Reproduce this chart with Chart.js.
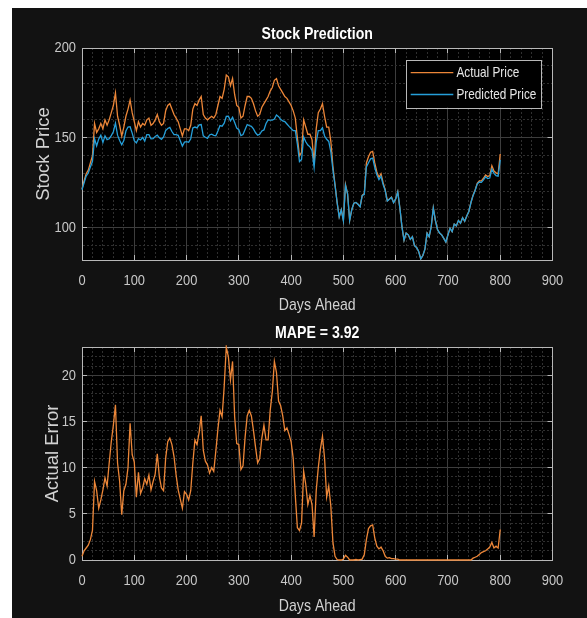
<!DOCTYPE html>
<html>
<head>
<meta charset="utf-8">
<title>Stock Prediction</title>
<script src="https://cdn.jsdelivr.net/npm/chart.js@4"></script>
<style>
  html, body { margin: 0; padding: 0; background: #ffffff; }
  #figure { position: absolute; left: 12px; top: 8px; width: 575px; height: 610px; background: #121212; }
  #priceChart { position: absolute; left: 0; top: 0; }
  #errorChart { position: absolute; left: 0; top: 310px; }
</style>
</head>
<body>
<div id="figure">
  <canvas id="priceChart" width="575" height="310"></canvas>
  <canvas id="errorChart" width="575" height="300"></canvas>
</div>
<script>
// Forecast horizon (days ahead), one sample every 4 days
const days = [
  0, 4, 8, 12, 16, 20, 24, 28, 32, 36,
  40, 44, 48, 52, 56, 60, 64, 68, 72, 76,
  80, 84, 88, 92, 96, 100, 104, 108, 112, 116,
  120, 124, 128, 132, 136, 140, 144, 148, 152, 156,
  160, 164, 168, 172, 176, 180, 184, 188, 192, 196,
  200, 204, 208, 212, 216, 220, 224, 228, 232, 236,
  240, 244, 248, 252, 256, 260, 264, 268, 272, 276,
  280, 284, 288, 292, 296, 300, 304, 308, 312, 316,
  320, 324, 328, 332, 336, 340, 344, 348, 352, 356,
  360, 364, 368, 372, 376, 380, 384, 388, 392, 396,
  400, 404, 408, 412, 416, 420, 424, 428, 432, 436,
  440, 444, 448, 452, 456, 460, 464, 468, 472, 476,
  480, 484, 488, 492, 496, 500, 504, 508, 512, 516,
  520, 524, 528, 532, 536, 540, 544, 548, 552, 556,
  560, 564, 568, 572, 576, 580, 584, 588, 592, 596,
  600, 604, 608, 612, 616, 620, 624, 628, 632, 636,
  640, 644, 648, 652, 656, 660, 664, 668, 672, 676,
  680, 684, 688, 692, 696, 700, 704, 708, 712, 716,
  720, 724, 728, 732, 736, 740, 744, 748, 752, 756,
  760, 764, 768, 772, 776, 780, 784, 788, 792, 796,
  800
];

const actualPrice = [
  121.5, 126, 130, 132, 136, 140, 158, 153, 155, 158,
  155, 160, 157, 160, 164, 168, 175, 162, 157, 151,
  156, 162, 166, 171, 164, 159, 154, 159, 156, 158,
  157, 160, 161, 157, 158, 160, 163, 159, 157, 158,
  165, 168, 169, 166, 163, 161, 159, 155, 151, 155,
  155, 154, 157, 166, 169, 168, 171, 173, 163, 161,
  160, 161, 162, 161, 163, 168, 173, 172, 177, 185,
  184, 179, 183, 174, 168, 167, 161, 162, 168, 173,
  173, 172, 169, 165, 162, 163, 167, 169, 171, 173,
  176, 178, 182, 183, 179, 177, 175, 173, 172, 170,
  168, 165, 161, 150, 140, 142, 160, 156, 152, 152,
  149, 136, 155, 164, 166, 169, 162, 156, 156, 148,
  134, 124, 114, 106, 110, 104, 124, 119, 104, 110,
  113.6, 114, 113, 111.7, 118, 119, 136, 139.5, 142, 142.5,
  136, 131, 128, 130, 125, 121, 115, 116, 117, 114,
  116, 120, 111, 100.6, 93, 97, 96, 93.5, 95, 90,
  89, 86.7, 82.6, 84.5, 88, 96.9, 95, 100.5, 111, 104,
  99, 97, 96, 94, 92, 96, 99.7, 97.8, 102, 101,
  104, 102.5, 105.5, 103.5, 106.5, 109, 114, 118, 121, 124.7,
  126, 126, 127.5, 129.3, 128.5, 129, 134.5, 131.5, 130.5, 130,
  141
];

const predictedPrice = [
  121.1, 125, 128.7, 130.4, 133.8, 136.8, 149.5, 145.5, 149.4, 151.5,
  147.4, 151.1, 149, 149.5, 151.2, 153.4, 158.2, 151.5, 148.5, 146.1,
  148.5, 153.8, 156, 156.2, 152.6, 148.4, 147.2, 149.5, 148.8, 150.2,
  148.2, 151.8, 151.8, 149.4, 149.5, 150.7, 151.5, 150, 149.2, 150.5,
  154, 155.2, 155.8, 153.5, 151.8, 151.8, 151.4, 148.4, 145.4, 147.6,
  147.9, 147.5, 149.5, 155.5, 156, 155.5, 157.2, 157.4, 151.1, 150.3,
  149.7, 151.6, 152, 151.4, 151.2, 153.8, 156.8, 156.5, 158.2, 161.9,
  162, 159.5, 161.5, 158.5, 155.4, 154.5, 151.2, 151.8, 154.7, 157.4,
  156.8, 156.4, 155, 152.8, 151.5, 152, 153.8, 154.4, 158, 160,
  159.8, 159.8, 160.5, 162.7, 161.8, 160.3, 159.4, 159, 157.7, 156.4,
  155.2, 154, 154, 146.5, 136.8, 138, 150.4, 147.8, 146, 145,
  143, 133.5, 147.5, 154, 154, 155.6, 151, 149.2, 148, 142.2,
  132.1, 123.6, 114, 106, 110, 103.9, 123.5, 118.7, 104, 110,
  113.6, 114, 113, 111.6, 117.9, 118.4, 133.8, 136.1, 138.3, 138.7,
  133.6, 129.5, 126.8, 128.6, 124, 120.6, 114.8, 115.8, 116.9, 113.9,
  115.9, 119.9, 111, 100.6, 93, 97, 96, 93.5, 95, 90,
  89, 86.7, 82.6, 84.5, 88, 96.9, 95, 100.5, 111, 104,
  99, 97, 96, 94, 92, 96, 99.7, 97.8, 102, 101,
  104, 102.5, 105.5, 103.5, 106.5, 109, 114, 117.8, 120.7, 124.3,
  125.4, 125.2, 126.6, 128.3, 127.3, 127.6, 132.6, 130.2, 129, 128.7,
  137.7
];

const actualError = [
  0.4, 1.0, 1.3, 1.6, 2.2, 3.2, 8.5, 7.5, 5.6, 6.5,
  7.6, 8.9, 8.0, 10.5, 12.8, 14.6, 16.8, 10.5, 8.5, 4.9,
  7.5, 8.2, 10.0, 14.8, 11.4, 10.6, 6.8, 9.5, 7.2, 7.8,
  8.8, 8.2, 9.2, 7.6, 8.5, 9.3, 11.5, 9.0, 7.8, 7.5,
  11.0, 12.8, 13.2, 12.5, 11.2, 9.2, 7.6, 6.6, 5.6, 7.4,
  7.1, 6.5, 7.5, 10.5, 13.0, 12.5, 13.8, 15.6, 11.9, 10.7,
  10.3, 9.4, 10.0, 9.6, 11.8, 14.2, 16.2, 15.5, 18.8, 23.06,
  22.0, 19.5, 21.5, 15.5, 12.6, 12.5, 9.8, 10.2, 13.3, 15.6,
  16.2, 15.6, 14.0, 12.2, 10.5, 11.0, 13.2, 14.6, 13.0, 13.0,
  16.2, 18.2, 21.5, 20.3, 17.2, 16.7, 15.6, 14.0, 14.3, 13.6,
  12.8, 11.0, 7.0, 3.5, 3.2, 4.0, 9.6, 8.2, 6.0, 7.0,
  6.0, 2.5, 7.5, 10.0, 12.0, 13.4, 11.0, 6.8, 8.0, 5.8,
  1.9, 0.4, 0.05, 0, 0, 0.1, 0.5, 0.3, 0, 0,
  0, 0.05, 0, 0.05, 0.1, 0.6, 2.2, 3.4, 3.7, 3.8,
  2.4, 1.5, 1.2, 1.4, 1.0, 0.4, 0.2, 0.25, 0.15, 0.15,
  0.1, 0.1, 0, 0, 0, 0, 0, 0, 0, 0,
  0, 0, 0, 0, 0, 0, 0, 0, 0, 0,
  0, 0, 0, 0, 0, 0, 0, 0, 0, 0,
  0, 0, 0, 0, 0, 0, 0, 0.2, 0.3, 0.4,
  0.6, 0.8, 0.9, 1.0, 1.2, 1.4, 1.9, 1.3, 1.5, 1.3,
  3.3
];

// Labelled (major) tick values; the minor grid sits between them
const dayTicks = [0, 100, 200, 300, 400, 500, 600, 700, 800, 900];
const priceTicks = [100, 150, 200];
const errorTicks = [0, 5, 10, 15, 20];

const mapeValue = 3.92;

const NARROW = "'Liberation Sans', Arial, sans-serif";
const REGULAR = "'Liberation Sans', Arial, sans-serif";
const TEXT_SQUEEZE = 0.83;   // horizontal text is drawn condensed
const ORANGE = '#ec8638';
const BLUE = '#259fd9';
const AXIS = '#b8b8b8';
const TICK_TEXT = '#c8c8c8';
const LABEL_TEXT = '#d2d2d2';
const MAJOR_GRID = '#3d3d3d';
const MINOR_GRID = '#2f2f2f';

function points(values) {
  return days.map((d, i) => ({ x: d, y: values[i] }));
}

// Upright text is squeezed horizontally around its anchor; rotated text is left as is
const condensedText = {
  id: 'condensedText',
  beforeInit(chart) {
    const ctx = chart.ctx;
    const fill = ctx.fillText;
    ctx.fillText = function (text, x, y, maxWidth) {
      const m = this.getTransform();
      if (Math.abs(m.b) > 1e-6 || Math.abs(m.c) > 1e-6) {
        return maxWidth === undefined ? fill.call(this, text, x, y) : fill.call(this, text, x, y, maxWidth);
      }
      this.save();
      this.translate(x, y);
      this.scale(TEXT_SQUEEZE, 1);
      fill.call(this, text, 0, 0);
      this.restore();
    };
  }
};

// Plot area is filled black inside the dark figure
const plotBackground = {
  id: 'plotBackground',
  beforeDraw(chart) {
    const { ctx, chartArea: { left, top, width, height } } = chart;
    ctx.save();
    ctx.fillStyle = '#000000';
    ctx.fillRect(left, top, width, height);
    ctx.restore();
  }
};

// Boxed legend in the upper-right corner of the plot area
const boxLegend = {
  id: 'boxLegend',
  afterDatasetsDraw(chart, args, opts) {
    if (!opts.display) return;
    const { ctx, chartArea } = chart;
    const w = 134.5, h = 47.5;
    const bx = chartArea.right - 12 - w;
    const by = chartArea.top + 12;
    ctx.save();
    ctx.fillStyle = '#000000';
    ctx.fillRect(bx, by, w, h);
    ctx.strokeStyle = AXIS;
    ctx.lineWidth = 1;
    ctx.strokeRect(Math.round(bx) + 0.5, Math.round(by) + 0.5, Math.round(w), Math.round(h));
    ctx.font = '14.2px ' + NARROW;
    ctx.textBaseline = 'middle';
    ctx.textAlign = 'left';
    chart.data.datasets.forEach((ds, i) => {
      const y = by + 12.7 + i * 21.8;
      ctx.strokeStyle = ds.borderColor;
      ctx.lineWidth = 1.3;
      ctx.beginPath();
      ctx.moveTo(bx + 4.7, y);
      ctx.lineTo(bx + 47.3, y);
      ctx.stroke();
      ctx.fillStyle = '#e6e6e6';
      ctx.fillText(ds.label, bx + 50.5, y + 0.5);
    });
    ctx.restore();
  }
};

function isMajor(ctx, majors) {
  return !ctx.tick || majors.includes(ctx.tick.value);
}

// Main axis with major (solid) and minor (dotted) grid and inward ticks
function mainAxis(position, min, max, step, majors, labelPadding, title, size) {
  const horizontal = position === 'bottom';
  return {
    type: 'linear',
    position,
    min, max,
    ticks: {
      stepSize: step,
      autoSkip: false,
      includeBounds: false,
      maxRotation: 0,
      padding: labelPadding,
      color: TICK_TEXT,
      font: { family: NARROW, size: 15.5 },
      callback: v => majors.includes(v) ? String(v) : ''
    },
    grid: {
      color: ctx => isMajor(ctx, majors) ? MAJOR_GRID : MINOR_GRID,
      lineWidth: 1,
      drawTicks: true,
      tickLength: -5,
      tickWidth: 1,
      tickColor: ctx => isMajor(ctx, majors) ? AXIS : 'rgba(0,0,0,0)'
    },
    border: {
      display: true,
      color: AXIS,
      width: 1,
      dash: ctx => isMajor(ctx, majors) ? [] : [2, 2]
    },
    title,
    afterFit: s => { if (horizontal) s.height = size; else s.width = size; }
  };
}

// Opposite box edge: border line and inward major ticks only
function boxEdge(position, min, max, step, size, title) {
  const horizontal = position === 'top';
  return {
    type: 'linear',
    position,
    min, max,
    ticks: { stepSize: step, includeBounds: false, display: false },
    grid: {
      drawOnChartArea: false,
      drawTicks: true,
      tickLength: -5,
      tickWidth: 1,
      tickColor: AXIS,
      color: AXIS
    },
    border: { display: true, color: AXIS, width: 1 },
    title: title || { display: false },
    afterFit: s => { if (horizontal) s.height = size; else s.width = size; }
  };
}

function lineSet(label, values, color, order) {
  return {
    label,
    data: points(values),
    borderColor: color,
    backgroundColor: color,
    borderWidth: 1.3,
    pointRadius: 0,
    tension: 0,
    fill: false,
    order,
    clip: 2
  };
}

function daysTitle(bottomPad) {
  return {
    display: true,
    text: 'Days Ahead',
    color: LABEL_TEXT,
    font: { family: NARROW, size: 17 },
    padding: { top: 0, bottom: bottomPad }
  };
}

Chart.defaults.animation = false;

new Chart(document.getElementById('priceChart'), {
  type: 'line',
  data: {
    datasets: [
      lineSet('Actual Price', actualPrice, ORANGE, 1),
      lineSet('Predicted Price', predictedPrice, BLUE, 0)
    ]
  },
  options: {
    responsive: false,
    animation: false,
    layout: { padding: 0, autoPadding: false },
    plugins: { legend: { display: false }, tooltip: { enabled: false }, boxLegend: { display: true } },
    scales: {
      x: mainAxis('bottom', 0, 900, 20, dayTicks, 16.5, daysTitle(2.8), 58),
      y: mainAxis('left', 82, 200, 10, priceTicks, 11, {
        display: true, text: 'Stock Price', color: LABEL_TEXT,
        font: { family: REGULAR, size: 18.5 }, padding: { top: 20.4, bottom: 0 }
      }, 70),
      xTop: boxEdge('top', 0, 900, 100, 40, {
        display: true, text: 'Stock Prediction', color: '#ffffff',
        font: { family: NARROW, size: 17, weight: 'bold' }, padding: { top: 16.3, bottom: 0 }
      }),
      yRight: boxEdge('right', 82, 200, 50, 34.5)
    }
  },
  plugins: [condensedText, plotBackground, boxLegend]
});

new Chart(document.getElementById('errorChart'), {
  type: 'line',
  data: {
    datasets: [
      lineSet('Actual Error', actualError, ORANGE, 0)
    ]
  },
  options: {
    responsive: false,
    animation: false,
    layout: { padding: 0, autoPadding: false },
    plugins: { legend: { display: false }, tooltip: { enabled: false }, boxLegend: { display: false } },
    scales: {
      x: mainAxis('bottom', 0, 900, 20, dayTicks, 16.5, daysTitle(1.8), 58),
      y: mainAxis('left', 0, 23.06, 1, errorTicks, 11, {
        display: true, text: 'Actual Error', color: LABEL_TEXT,
        font: { family: REGULAR, size: 18.5 }, padding: { top: 29.4, bottom: 0 }
      }, 70),
      xTop: boxEdge('top', 0, 900, 100, 29, {
        display: true, text: 'MAPE = ' + mapeValue.toFixed(2), color: '#ffffff',
        font: { family: NARROW, size: 17, weight: 'bold' }, padding: { top: 5.1, bottom: 0 }
      }),
      yRight: boxEdge('right', 0, 23.06, 5, 34.5)
    }
  },
  plugins: [condensedText, plotBackground, boxLegend]
});
</script>
</body>
</html>
